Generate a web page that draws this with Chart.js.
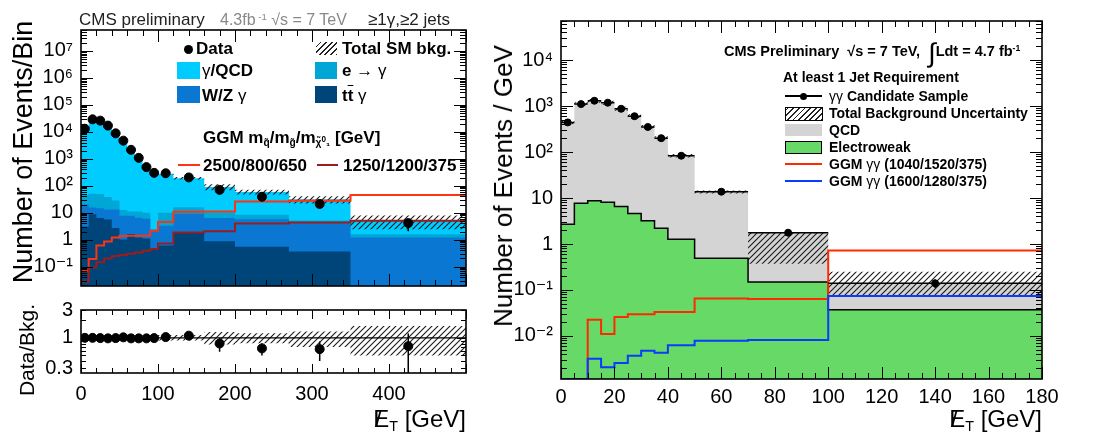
<!DOCTYPE html>
<html>
<head>
<meta charset="utf-8">
<script src="https://cdn.jsdelivr.net/npm/chart.js@4.4.0/dist/chart.umd.min.js"></script>
<style>
body { margin: 0; width: 1103px; height: 434px; background: #fff; position: relative; overflow: hidden;
       font-family: 'Liberation Sans', Arial, 'DejaVu Sans', sans-serif; color: #000; }
canvas { position: absolute; }
.t { position: absolute; white-space: nowrap; line-height: 1; }
.b { font-weight: bold; }
.box { position: absolute; }
.hatch { background: repeating-linear-gradient(-45deg, #222 0 1.2px, #fff 1.2px 4px); }
.met { position: relative; display: inline-block; }
.met .sl { position: absolute; left: 0.08em; top: -0.02em; font-weight: normal; }
sub.s { font-size: 0.6em; vertical-align: -0.3em; }
sup.s { font-size: 0.6em; vertical-align: 0.55em; }
.rot { transform: translate(-50%, -50%) rotate(-90deg); }
</style>
</head>
<body>
<canvas id="leftMain" width="475" height="306" style="left:0px;top:0px"></canvas>
<canvas id="leftRatio" width="475" height="144" style="left:0px;top:290px"></canvas>
<canvas id="rightMain" width="623" height="434" style="left:480px;top:0px"></canvas>

<!-- left panel texts -->
<div class="t" style="left:79px;top:11px;font-size:17px;color:#222">CMS preliminary</div>
<div class="t" style="left:220px;top:12px;font-size:16px;color:#888">4.3fb<sup class="s"> -1</sup> √s = 7 TeV</div>
<div class="t" style="left:368px;top:11px;font-size:17px;color:#222">≥1γ,≥2 jets</div>

<div class="box" style="left:183.5px;top:44.5px;width:9px;height:9px;border-radius:50%;background:#000"></div>
<div class="t b" style="left:196px;top:40px;font-size:17px">Data</div>
<div class="box hatch" style="left:316px;top:42px;width:21px;height:13px"></div>
<div class="t b" style="left:342px;top:40px;font-size:17px">Total SM bkg.</div>
<div class="box" style="left:177px;top:62px;width:23px;height:17px;background:#00ccff"></div>
<div class="t b" style="left:202px;top:62px;font-size:17px"><span style="font-weight:normal">γ</span>/QCD</div>
<div class="box" style="left:315px;top:62px;width:22px;height:17px;background:#00a6d6"></div>
<div class="t b" style="left:342px;top:62px;font-size:17px">e → <span style="font-weight:normal">γ</span></div>
<div class="box" style="left:177px;top:86px;width:23px;height:17px;background:#0a78d2"></div>
<div class="t b" style="left:202px;top:87px;font-size:17px">W/Z <span style="font-weight:normal">γ</span></div>
<div class="box" style="left:315px;top:86px;width:22px;height:17px;background:#00457a"></div>
<div class="t b" style="left:342px;top:87px;font-size:17px">t<span style="text-decoration:overline">t</span> <span style="font-weight:normal">γ</span></div>
<div class="t b" style="left:203px;top:129px;font-size:17px">GGM m<sub class="s">q̃</sub>/m<sub class="s">g̃</sub>/m<sub class="s">χ̃<sup style="font-size:0.8em">0</sup>₁</sub> [GeV]</div>
<div class="box" style="left:178px;top:164px;width:22px;height:2px;background:#ff3311"></div>
<div class="t b" style="left:203px;top:157px;font-size:17px">2500/800/650</div>
<div class="box" style="left:317px;top:164px;width:21px;height:2px;background:#9a1c1c"></div>
<div class="t b" style="left:343px;top:157px;font-size:17px">1250/1200/375</div>

<div class="t rot" style="left:23px;top:152px;font-size:27px">Number of Events/Bin</div>
<div class="t rot" style="left:26px;top:350px;font-size:21px">Data/Bkg.</div>
<div class="t" style="right:637px;top:407px;font-size:24px"><span class="met">E<span class="sl">/</span></span><sub class="s">T</sub> [GeV]</div>

<!-- right panel texts -->
<div class="t b" style="left:724px;top:40px;font-size:14.5px">CMS Preliminary &nbsp;√s = 7 TeV, &nbsp;<span style="font-size:27px;font-weight:normal;vertical-align:-6px">∫</span>Ldt = 4.7 fb<sup class="s">-1</sup></div>
<div class="t b" style="left:783px;top:70px;font-size:14px">At least 1 Jet Requirement</div>
<div class="box" style="left:785px;top:95px;width:37px;height:1.5px;background:#000"></div>
<div class="box" style="left:799.5px;top:92.5px;width:7px;height:7px;border-radius:50%;background:#000"></div>
<div class="t b" style="left:829px;top:89px;font-size:14px"><span style="font-weight:normal">γγ</span> Candidate Sample</div>
<div class="box hatch" style="left:785px;top:107px;width:36px;height:12px;border:1px solid #000"></div>
<div class="t b" style="left:829px;top:106px;font-size:14px">Total Background Uncertainty</div>
<div class="box" style="left:785px;top:124px;width:37px;height:12px;background:#d4d4d4"></div>
<div class="t b" style="left:829px;top:123px;font-size:14px">QCD</div>
<div class="box" style="left:785px;top:141px;width:35px;height:11px;background:#66d966;border:1px solid #000"></div>
<div class="t b" style="left:829px;top:140px;font-size:14px">Electroweak</div>
<div class="box" style="left:785px;top:163px;width:37px;height:1.5px;background:#ff2a00"></div>
<div class="t b" style="left:829px;top:157px;font-size:14px">GGM <span style="font-weight:normal">γγ</span> (1040/1520/375)</div>
<div class="box" style="left:785px;top:180px;width:37px;height:1.5px;background:#0a3cff"></div>
<div class="t b" style="left:829px;top:174px;font-size:14px">GGM <span style="font-weight:normal">γγ</span> (1600/1280/375)</div>

<div class="t rot" style="left:503px;top:186px;font-size:26px">Number of Events / GeV</div>
<div class="t" style="right:61px;top:407px;font-size:24px"><span class="met">E<span class="sl">/</span></span><sub class="s">T</sub> [GeV]</div>

<script>
// ---------- left panel: >=1 photon, >=2 jets ----------
const binsL = [0, 10, 20, 30, 40, 50, 60, 70, 80, 90, 100, 120, 160, 200, 270, 350, 500];
const ttGamma = [3, 8.8, 6.4, 5.6, 2.7, 1.0, 1.6, 1.2, 1.1, 0.45, 0.6, 1.8, 0.87, 0.54, 0.36, 0.001];
const wzGamma = [17, 6.6, 8.1, 7.4, 10.3, 6.7, 6.1, 5.3, 4.9, 1.75, 2.7, 7.3, 5.5, 5.1, 3.9, 1.2];
const eToGamma = [25, 35, 35, 25, 15, 4.8, 3.3, 4.5, 4, 0.2, 6.7, 6.9, 3.7, 2.8, 0.9, 0.37];
const gammaQCD = [12000, 29000, 26000, 16500, 8500, 4500, 2100, 1040, 470, 288, 268, 174, 79, 50, 26.4, 3.3];
const bandLoL = [0.98, 0.98, 0.98, 0.98, 0.98, 0.98, 0.98, 0.98, 0.98, 0.95, 0.9, 0.9, 0.77, 0.81, 0.70, 0.5];
const bandHiL = [1.02, 1.02, 1.02, 1.02, 1.02, 1.02, 1.02, 1.02, 1.02, 1.05, 1.12, 1.12, 1.26, 1.2, 1.29, 1.6];
const ggm2500 = [0.07, 0.19, 0.6, 0.86, 1.2, 1.35, 1.4, 1.4, 1.4, 2.15, 4.5, 10.9, 11, 26, 27.8, 45];
const ggm1250 = [0.028, 0.092, 0.144, 0.2, 0.245, 0.27, 0.3, 0.33, 0.39, 0.45, 0.71, 1.85, 2.05, 4.0, 4.3, 5.0];
const dataXL = [5, 15, 25, 35, 45, 55, 65, 75, 85, 95, 110, 140, 180, 235, 310, 425];
const dataYL = [13000, 29000, 26000, 17000, 8800, 4700, 2150, 1080, 490, 300, 290, 203, 70, 39, 21, 4.1];
const dataLoL = [12800, 28700, 25700, 16800, 8700, 4630, 2100, 1050, 470, 283, 273, 189, 62, 33, 17, 2.05];
const dataHiL = [13200, 29300, 26300, 17200, 8900, 4770, 2200, 1110, 510, 317, 307, 217, 78, 45, 25, 5.6];
const ratioY = [1.0, 1.0, 0.99, 0.98, 0.99, 1.02, 0.98, 0.98, 0.98, 0.99, 1.03, 1.09, 0.80, 0.66, 0.64, 0.72];
const ratioLo = [0.99, 0.99, 0.98, 0.97, 0.97, 1.0, 0.96, 0.95, 0.94, 0.94, 0.97, 1.02, 0.58, 0.5, 0.40, 0.23];
const ratioHi = [1.01, 1.01, 1.0, 0.99, 1.01, 1.04, 1.0, 1.01, 1.02, 1.04, 1.09, 1.16, 1.0, 0.81, 0.87, 1.19];
const ratioTicks = [0.3, 1, 3];

// ---------- right panel: diphoton, >=1 jet ----------
const binsR = [0, 5, 10, 15, 20, 25, 30, 35, 40, 50, 70, 100, 180];
const electroweak = [2.7, 7.7, 8.7, 8.1, 6.5, 4.6, 3.2, 2.2, 1.27, 0.49, 0.15, 0.037];
const qcdR = [437, 1092, 1291, 1172, 864, 595, 347, 198, 82, 13, 1.6, 0.10];
const bandLoR = [400, 1000, 1180, 1070, 790, 540, 315, 180, 76, 12.5, 0.37, 0.078];
const bandHiR = [480, 1200, 1420, 1300, 960, 660, 385, 220, 91, 14.5, 1.76, 0.25];
const ggmRed = [0.00116, 0.00116, 0.0226, 0.011, 0.026, 0.0295, 0.0295, 0.033, 0.033, 0.065, 0.064, 0.72];
const ggmBlue = [0.00116, 0.00116, 0.0032, 0.0021, 0.0026, 0.0037, 0.0048, 0.0043, 0.0063, 0.0079, 0.0082, 0.074];
const candX = [2.5, 7.5, 12.5, 17.5, 22.5, 27.5, 32.5, 37.5, 45, 60, 85, 140];
const candY = [440, 1100, 1300, 1180, 870, 600, 350, 200, 83, 13.7, 1.76, 0.14];
const candLo = [425, 1080, 1275, 1160, 850, 585, 340, 193, 80, 13.2, 1.6, 0.11];
const candHi = [455, 1120, 1325, 1200, 890, 615, 360, 207, 86, 14.2, 1.92, 0.17];

const expLabels = { '-2': '10⁻²', '-1': '10⁻¹', '0': '1', '1': '10', '2': '10²', '3': '10³',
                    '4': '10⁴', '5': '10⁵', '6': '10⁶', '7': '10⁷' };

const FONT = "'Liberation Sans', Arial, 'DejaVu Sans', sans-serif";

// helpers
function steps(edges, vals) {
    const pts = vals.map((v, i) => ({ x: edges[i], y: v }));
    pts.push({ x: edges[edges.length - 1], y: vals[vals.length - 1] });
    return pts;
}
function addUp(...series) {
    return series[0].map((_, i) => series.reduce((s, a) => s + a[i], 0));
}
function times(a, b) {
    return a.map((v, i) => v * b[i]);
}
function decadeLabel(v) {
    const e = Math.log10(v);
    if (Math.abs(e - Math.round(e)) > 1e-6) return '';
    return expLabels[String(Math.round(e))] || '';
}

const hatchPattern = (() => {
    const c = document.createElement('canvas');
    c.width = 6; c.height = 6;
    const g = c.getContext('2d');
    g.strokeStyle = '#1a1a1a';
    g.lineWidth = 1.1;
    g.beginPath();
    g.moveTo(0, 6); g.lineTo(6, 0);
    g.moveTo(-3, 3); g.lineTo(3, -3);
    g.moveTo(3, 9); g.lineTo(9, 3);
    g.stroke();
    return g.createPattern(c, 'repeat');
})();

// inward ROOT-like ticks + frame
const frameTicks = {
    id: 'frameTicks',
    afterDraw(chart, args, o) {
        const { ctx, chartArea: a } = chart;
        const x = chart.scales.x, y = chart.scales.y;
        ctx.save();
        ctx.strokeStyle = '#000';
        ctx.lineWidth = 1;
        ctx.beginPath();
        for (let v = x.min; v <= x.max + 1e-9; v += o.xMinor) {
            const p = Math.round(x.getPixelForValue(v)) + 0.5;
            const L = Math.abs(v / o.xMajor - Math.round(v / o.xMajor)) < 1e-6 ? o.major : o.minor;
            ctx.moveTo(p, a.bottom); ctx.lineTo(p, a.bottom - L);
            ctx.moveTo(p, a.top); ctx.lineTo(p, a.top + L);
        }
        for (let e = Math.floor(Math.log10(y.min)); e <= Math.ceil(Math.log10(y.max)); e++) {
            for (let m = 1; m < 10; m++) {
                const v = m * Math.pow(10, e);
                if (v < y.min || v > y.max) continue;
                const p = Math.round(y.getPixelForValue(v)) + 0.5;
                const L = m === 1 ? o.major : o.minor;
                ctx.moveTo(a.left, p); ctx.lineTo(a.left + L, p);
                ctx.moveTo(a.right, p); ctx.lineTo(a.right - L, p);
            }
        }
        ctx.stroke();
        ctx.lineWidth = 1.6;
        ctx.strokeRect(a.left, a.top, a.width, a.height);
        ctx.restore();
    }
};

// error bars for point datasets
const errorBars = {
    id: 'errorBars',
    afterDatasetsDraw(chart) {
        const { ctx, chartArea: a } = chart;
        const x = chart.scales.x, y = chart.scales.y;
        chart.data.datasets.forEach(ds => {
            if (!ds.errLo) return;
            ctx.save();
            ctx.beginPath();
            ctx.rect(a.left, a.top, a.width, a.height);
            ctx.clip();
            ctx.strokeStyle = '#000';
            ctx.lineWidth = 1.5;
            ctx.beginPath();
            ds.data.forEach((p, j) => {
                const px = x.getPixelForValue(p.x);
                ctx.moveTo(px, y.getPixelForValue(ds.errLo[j]));
                ctx.lineTo(px, y.getPixelForValue(ds.errHi[j]));
                if (ds.xLo) {
                    const py = y.getPixelForValue(p.y);
                    ctx.moveTo(x.getPixelForValue(ds.xLo[j]), py);
                    ctx.lineTo(x.getPixelForValue(ds.xHi[j]), py);
                }
            });
            ctx.stroke();
            ctx.restore();
        });
    }
};

function hist(edges, vals, extra) {
    return Object.assign({
        data: steps(edges, vals), stepped: true, pointRadius: 0,
        borderWidth: 0, borderColor: 'rgba(0,0,0,0)', fill: false
    }, extra);
}

function baseOptions(xOpts, yOpts, padding, ticks) {
    return {
        responsive: false, animation: false, devicePixelRatio: 1,
        layout: { padding: padding },
        plugins: { legend: { display: false }, tooltip: { enabled: false }, frameTicks: ticks },
        scales: { x: xOpts, y: yOpts }
    };
}

const tickFont = { family: FONT, size: 20 };

// left main
const totalL = addUp(ttGamma, wzGamma, eToGamma, gammaQCD);
new Chart(document.getElementById('leftMain'), {
    type: 'line',
    data: {
        datasets: [
            { data: dataXL.map((v, i) => ({ x: v, y: dataYL[i] })), showLine: false, pointRadius: 4.5,
              pointBackgroundColor: '#000', pointBorderColor: '#000', errLo: dataLoL, errHi: dataHiL, order: 1 },
            hist(binsL, ggm1250, { borderColor: '#9a1c1c', borderWidth: 2, order: 2 }),
            hist(binsL, ggm2500, { borderColor: '#ff3311', borderWidth: 2, order: 3 }),
            hist(binsL, times(totalL, bandHiL), { fill: 4, backgroundColor: hatchPattern, order: 4 }),
            hist(binsL, times(totalL, bandLoL), { order: 5 }),
            hist(binsL, ttGamma, { fill: 'start', backgroundColor: '#00457a', order: 6 }),
            hist(binsL, addUp(ttGamma, wzGamma), { fill: 'start', backgroundColor: '#0a78d2', order: 7 }),
            hist(binsL, addUp(ttGamma, wzGamma, eToGamma), { fill: 'start', backgroundColor: '#00a6d6', order: 8 }),
            hist(binsL, totalL, { fill: 'start', backgroundColor: '#00ccff', order: 9 })
        ]
    },
    options: baseOptions(
        { type: 'linear', min: 0, max: 500, display: false },
        { type: 'logarithmic', min: 0.019, max: 6e7,
          grid: { display: false, drawTicks: false }, border: { display: false },
          ticks: { autoSkip: false, padding: 8, color: '#000', font: tickFont, callback: v => decadeLabel(v) },
          afterFit: s => { s.width = 81; } },
        { left: 0, top: 30, right: 9, bottom: 1 },
        { xMinor: 20, xMajor: 100, major: 12, minor: 6 }),
    plugins: [frameTicks, errorBars]
});

// left ratio
new Chart(document.getElementById('leftRatio'), {
    type: 'line',
    data: {
        datasets: [
            { data: dataXL.map((v, i) => ({ x: v, y: ratioY[i] })), showLine: false, pointRadius: 4.5,
              pointBackgroundColor: '#000', pointBorderColor: '#000', errLo: ratioLo, errHi: ratioHi, order: 1 },
            { data: [{ x: 0, y: 1 }, { x: 500, y: 1 }], borderColor: '#000', borderWidth: 1.2, pointRadius: 0, order: 2 },
            hist(binsL, bandHiL, { fill: 3, backgroundColor: hatchPattern, order: 3 }),
            hist(binsL, bandLoL, { order: 4 })
        ]
    },
    options: baseOptions(
        { type: 'linear', min: 0, max: 500,
          grid: { display: false, drawTicks: false }, border: { display: false },
          ticks: { stepSize: 100, padding: 9, color: '#000', font: tickFont, maxRotation: 0,
                   callback: v => (v < 500 ? String(v) : '') },
          afterFit: s => { s.height = 61; } },
        { type: 'logarithmic', min: 0.25, max: 3,
          grid: { display: false, drawTicks: false }, border: { display: false },
          afterBuildTicks: s => { s.ticks = ratioTicks.map(v => ({ value: v })); },
          ticks: { autoSkip: false, padding: 8, color: '#000', font: tickFont, callback: v => String(v) },
          afterFit: s => { s.width = 81; } },
        { left: 0, top: 15, right: 9, bottom: 0 },
        { xMinor: 20, xMajor: 100, major: 9, minor: 5 }),
    plugins: [frameTicks, errorBars]
});

// right panel
const totalR = addUp(electroweak, qcdR);
new Chart(document.getElementById('rightMain'), {
    type: 'line',
    data: {
        datasets: [
            hist(binsR, ggmBlue, { borderColor: '#0a3cff', borderWidth: 2, order: 1 }),
            hist(binsR, ggmRed, { borderColor: '#ff2a00', borderWidth: 2, order: 2 }),
            { data: candX.map((v, i) => ({ x: v, y: candY[i] })), showLine: false, pointRadius: 3.5,
              pointBackgroundColor: '#000', pointBorderColor: '#000', errLo: candLo, errHi: candHi,
              xLo: binsR.slice(0, -1), xHi: binsR.slice(1), order: 3 },
            hist(binsR, electroweak, { fill: 'start', backgroundColor: '#66d966', borderColor: '#000', borderWidth: 1.5, order: 4 }),
            hist(binsR, bandHiR, { fill: 5, backgroundColor: hatchPattern, order: 5 }),
            hist(binsR, bandLoR, { order: 6 }),
            hist(binsR, totalR, { fill: 'start', backgroundColor: '#d4d4d4', order: 7 })
        ]
    },
    options: baseOptions(
        { type: 'linear', min: 0, max: 180,
          grid: { display: false, drawTicks: false }, border: { display: false },
          ticks: { stepSize: 20, padding: 6, color: '#000', font: tickFont, maxRotation: 0 },
          afterFit: s => { s.height = 55; } },
        { type: 'logarithmic', min: 0.00116, max: 70500,
          grid: { display: false, drawTicks: false }, border: { display: false },
          ticks: { autoSkip: false, padding: 8, color: '#000', font: tickFont, callback: v => decadeLabel(v) },
          afterFit: s => { s.width = 81; } },
        { left: 0, top: 21, right: 61, bottom: 0 },
        { xMinor: 5, xMajor: 20, major: 12, minor: 6 }),
    plugins: [frameTicks, errorBars]
});
</script>
</body>
</html>
